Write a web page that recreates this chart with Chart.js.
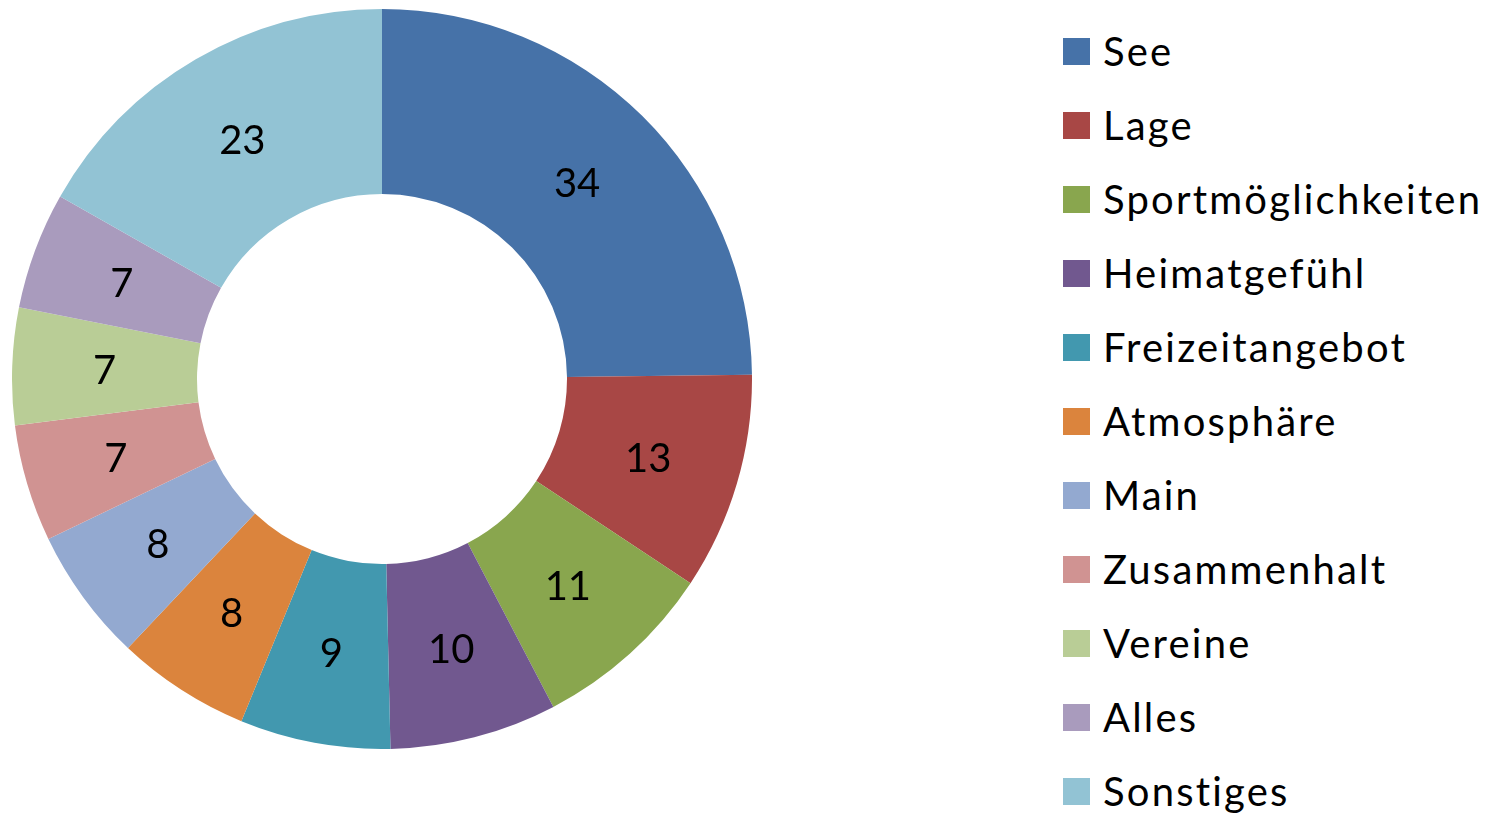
<!DOCTYPE html>
<html>
<head>
<meta charset="utf-8">
<script src="https://cdn.jsdelivr.net/npm/chart.js@4/dist/chart.umd.min.js"></script>
<style>
  html, body { margin: 0; padding: 0; background: #fff; width: 1498px; height: 814px; overflow: hidden; }
  #wrap { position: absolute; left: 12px; top: 9px; width: 740px; height: 740px; }
  #legend { position: absolute; left: 1063px; top: 0; font-family: Lato, "Open Sans", sans-serif; font-size: 40px; color: #000; }
  .item { position: absolute; left: 0; white-space: nowrap; height: 74px; display: flex; align-items: center; }
  .box { width: 27px; height: 27px; margin-right: 13px; }
  .txt { letter-spacing: 2.2px; }
</style>
</head>
<body>
<div id="wrap"><canvas id="c"></canvas></div>
<div id="legend"></div>
<script>
const categories = ["See", "Lage", "Sportmöglichkeiten", "Heimatgefühl", "Freizeitangebot", "Atmosphäre", "Main", "Zusammenhalt", "Vereine", "Alles", "Sonstiges"];
const values = [34, 13, 11, 10, 9, 8, 8, 7, 7, 7, 23];
const colors = ["#4672A8", "#A84745", "#89A64E", "#71588F", "#4298AF", "#DB843D", "#93A9D0", "#D09392", "#B9CD96", "#A99BBD", "#92C3D4"];

const labelPlugin = {
  id: 'sliceLabels',
  afterDatasetsDraw(chart) {
    const ctx = chart.ctx;
    const meta = chart.getDatasetMeta(0);
    ctx.save();
    ctx.font = '40px Lato, "Open Sans", sans-serif';
    ctx.fillStyle = '#000';
    ctx.textAlign = 'center';
    ctx.textBaseline = 'middle';
    meta.data.forEach((arc, i) => {
      const p = arc.tooltipPosition();
      ctx.fillText(String(values[i]), p.x, p.y + 2);
    });
    ctx.restore();
  }
};

new Chart(document.getElementById('c'), {
  type: 'doughnut',
  data: {
    labels: categories,
    datasets: [{ data: values, backgroundColor: colors, borderWidth: 0 }]
  },
  options: {
    responsive: true,
    maintainAspectRatio: false,
    animation: false,
    cutout: '50%',
    layout: { padding: 0 },
    plugins: { legend: { display: false }, tooltip: { enabled: false } }
  },
  plugins: [labelPlugin]
});

const legend = document.getElementById('legend');
categories.forEach((name, i) => {
  const d = document.createElement('div');
  d.className = 'item';
  d.style.top = (14 + i * 74) + 'px';
  const b = document.createElement('span');
  b.className = 'box';
  b.style.background = colors[i];
  const t = document.createElement('span');
  t.className = 'txt';
  t.textContent = name;
  d.appendChild(b); d.appendChild(t);
  legend.appendChild(d);
});
</script>
</body>
</html>
